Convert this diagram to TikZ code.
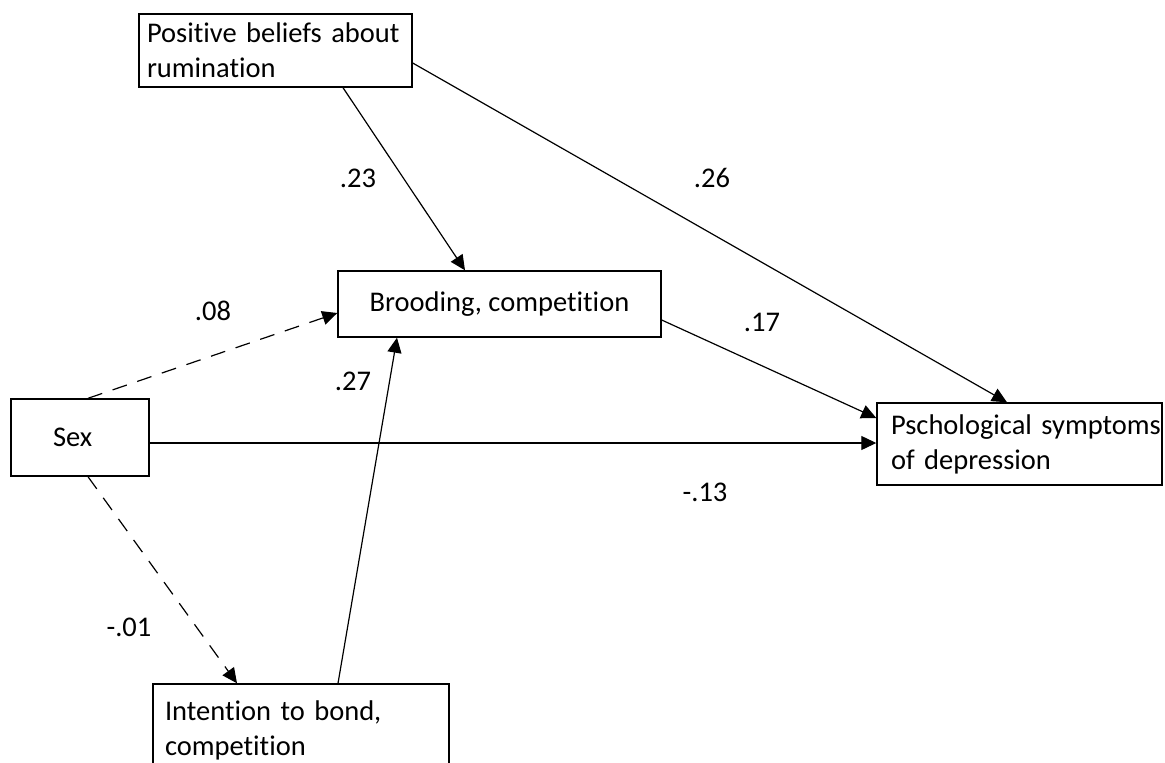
\documentclass[tikz,border=0pt]{standalone}
\usepackage{fontspec}
\setmainfont[Ligatures={NoCommon,NoRequired,NoContextual,NoRare},RawFeature={-calt}]{Carlito}
\usetikzlibrary{arrows.meta}
\newcommand{\tI}{t\kern0pt i}
\begin{document}
\begin{tikzpicture}[x=1pt,y=-1pt,
  every node/.style={font=\fontsize{28.5}{35}\selectfont},
  box/.style={draw, line width=1.4pt, rectangle, inner ysep=0pt},
  lbl/.style={inner sep=0pt},
  link/.style={line width=1.2pt, -{Triangle[length=15pt,width=14pt]}},
  dlink/.style={link, dash pattern=on 15pt off 11pt}]
\useasboundingbox (0,0) rectangle (1165,763);
\clip (0,0) rectangle (1165,763);
\node[box, minimum height=73pt, inner xsep=8pt, text width=257pt, align=left] (pos) at (275.5,50.5)
  {\mbox{Posi\tI ve beliefs about}\\rumina\tI on};
\node[box, minimum width=323pt, minimum height=66pt] (brood) at (499.5,304) {Brooding, compe\tI\tI on};
\node[box, minimum height=82pt, inner xsep=14pt, text width=257pt, align=left] (psych) at (1019.5,444)
  {\mbox{Pschological symptoms}\\of depression};
\node[box, minimum height=77pt, inner xsep=42pt, text width=54pt, align=left] (sex) at (80,437.5) {Sex};
\node[box, minimum height=92pt, inner xsep=12pt, text width=272pt, align=left] (intent) at (301,730)
  {\mbox{Inten\tI on to bond,}\\compe\tI\tI on};
\draw[link] ([xshift=67.5pt]pos.south) -- ([xshift=-34.5pt]brood.north);
\draw[link] ([yshift=-12.5pt]pos.east) -- ([xshift=-12.5pt]psych.north);
\draw[link] ([yshift=-16pt]brood.east) -- ([yshift=26pt]psych.west);
\draw[link] ([yshift=-5.5pt]sex.east) -- ([yshift=1pt]psych.west);
\draw[dlink] ([xshift=8pt]sex.north) -- ([yshift=-9pt]brood.west);
\draw[dlink] ([xshift=8pt]sex.south) -- ([xshift=-64pt]intent.north);
\draw[link] ([xshift=37pt]intent.north) -- ([xshift=-102.5pt]brood.south);
\node[lbl] (l23) at (358,178) {.23};
\node[lbl] (l26) at (712,178) {.26};
\node[lbl] (l08) at (213,311) {.08};
\node[lbl] (l17) at (762,322) {.17};
\node[lbl] (l27) at (353,381) {.27};
\node[lbl] (l13) at (705,492) {-.13};
\node[lbl] (l01) at (129,627) {-.01};
\end{tikzpicture}
\end{document}
